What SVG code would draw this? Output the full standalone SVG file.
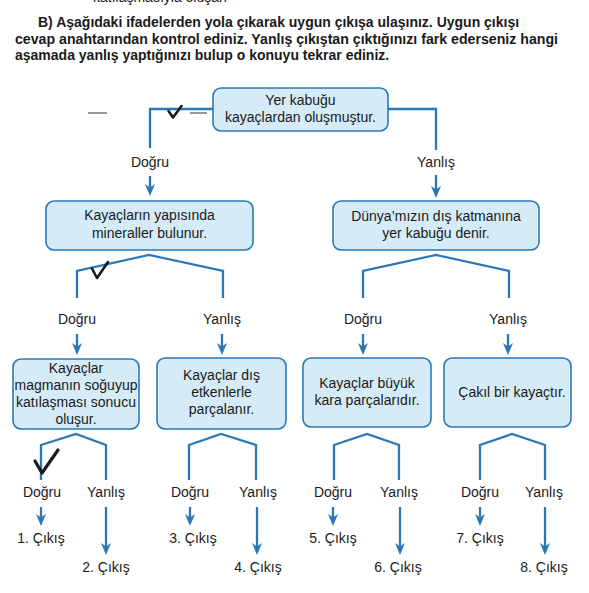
<svg xmlns="http://www.w3.org/2000/svg" width="589" height="593" viewBox="0 0 589 593">
<defs>
<style>
.hdr{font-family:"Liberation Sans",Arial,sans-serif;font-size:14px;font-weight:bold;fill:#1a1a1a}
.top{font-family:"Liberation Sans",Arial,sans-serif;font-size:14px;fill:#1a1a1a}
.t{font-family:"Liberation Sans",Arial,sans-serif;font-size:14px;fill:#1a1a1a;text-anchor:middle}
.box{fill:#d5ecf8;stroke:#2a78b8;stroke-width:1.6}
.ln{fill:none;stroke:#2a78b8;stroke-width:2.3}
.ar{fill:none;stroke:#2a78b8;stroke-width:2.3;marker-end:url(#ah)}
.chk{fill:none;stroke:#1a1a1a;stroke-width:2.6;stroke-linecap:round;stroke-linejoin:round}
.dash{fill:none;stroke:#333;stroke-width:1.2}
</style>
<marker id="ah" viewBox="0 0 12 10" refX="7" refY="5" markerWidth="12" markerHeight="10" markerUnits="userSpaceOnUse" orient="auto">
<path d="M0,0 L12,5 L0,10 L3.5,5 z" fill="#2a78b8"/>
</marker>
</defs>
<rect width="589" height="593" fill="#ffffff"/>
<g id="header">
<text class="top" x="93" y="2">katılaşmasıyla oluşan</text>
<text class="hdr" x="38" y="27">B) Aşağıdaki ifadelerden yola çıkarak uygun çıkışa ulaşınız. Uygun çıkışı</text>
<text class="hdr" x="15" y="44" textLength="543" lengthAdjust="spacingAndGlyphs">cevap anahtarından kontrol ediniz. Yanlış çıkıştan çıktığınızı fark ederseniz hangi</text>
<text class="hdr" x="15" y="60">aşamada yanlış yaptığınızı bulup o konuyu tekrar ediniz.</text>
</g>
<g id="connectors">
<path class="ln" d="M213,109 H150 V148"/>
<path class="ar" d="M150,176 V191"/>
<path class="ln" d="M388,109 H436 V150"/>
<path class="ar" d="M436,175 V193"/>
<path class="ln" d="M77,298 V271 L149,255 L223,271 V298"/>
<path class="ln" d="M363,298 V271 L436,255 L509,271 V298"/>
<path class="ar" d="M77,334 V350"/>
<path class="ar" d="M222,334 V350"/>
<path class="ar" d="M363,334 V350"/>
<path class="ar" d="M508,334 V350"/>
<path class="ln" d="M41,480 V445 L76,434 L106,445 V480"/>
<path class="ln" d="M189,480 V445 L221,434 L256,445 V480"/>
<path class="ln" d="M334,480 V445 L367,434 L399,445 V480"/>
<path class="ln" d="M480,480 V445 L512,434 L545,445 V480"/>
<path class="ar" d="M41,507 V521"/>
<path class="ar" d="M190,507 V521"/>
<path class="ar" d="M333,507 V521"/>
<path class="ar" d="M480,507 V521"/>
<path class="ar" d="M106,507 V550"/>
<path class="ar" d="M257,507 V550"/>
<path class="ar" d="M400,507 V550"/>
<path class="ar" d="M545,507 V550"/>
</g>
<g id="n-root">
<rect class="box" x="213" y="88" width="175" height="43" rx="8"/>
<text class="t" x="300.5" y="105">Yer kabuğu</text>
<text class="t" x="300.5" y="122">kayaçlardan oluşmuştur.</text>
</g>
<g id="n-minerals">
<rect class="box" x="46" y="201" width="207" height="49" rx="8"/>
<text class="t" x="149.5" y="220">Kayaçların yapısında</text>
<text class="t" x="149.5" y="238">mineraller bulunur.</text>
</g>
<g id="n-crust">
<rect class="box" x="333" y="201" width="206" height="49" rx="8"/>
<text class="t" x="436" y="221">Dünya’mızın dış katmanına</text>
<text class="t" x="436" y="238">yer kabuğu denir.</text>
</g>
<g id="n-magma">
<rect class="box" x="13" y="359" width="126" height="70" rx="8"/>
<text class="t" x="76" y="373">Kayaçlar</text>
<text class="t" x="76" y="390">magmanın soğuyup</text>
<text class="t" x="76" y="407">katılaşması sonucu</text>
<text class="t" x="76" y="424">oluşur.</text>
</g>
<g id="n-external">
<rect class="box" x="157" y="358" width="129" height="71" rx="8"/>
<text class="t" x="221.5" y="380">Kayaçlar dış</text>
<text class="t" x="221.5" y="397">etkenlerle</text>
<text class="t" x="221.5" y="414">parçalanır.</text>
</g>
<g id="n-continents">
<rect class="box" x="303" y="358" width="128" height="69" rx="8"/>
<text class="t" x="367" y="388">Kayaçlar büyük</text>
<text class="t" x="367" y="405">kara parçalarıdır.</text>
</g>
<g id="n-gravel">
<rect class="box" x="444" y="358" width="127" height="69" rx="8"/>
<text class="t" x="512" y="397">Çakıl bir kayaçtır.</text>
</g>
<g id="labels">
<text class="t" x="150" y="167">Doğru</text>
<text class="t" x="436" y="167">Yanlış</text>
<text class="t" x="77" y="324">Doğru</text>
<text class="t" x="222" y="324">Yanlış</text>
<text class="t" x="363" y="324">Doğru</text>
<text class="t" x="508" y="324">Yanlış</text>
<text class="t" x="42" y="497">Doğru</text>
<text class="t" x="106" y="497">Yanlış</text>
<text class="t" x="190" y="497">Doğru</text>
<text class="t" x="258" y="497">Yanlış</text>
<text class="t" x="333" y="497">Doğru</text>
<text class="t" x="399" y="497">Yanlış</text>
<text class="t" x="480" y="497">Doğru</text>
<text class="t" x="544" y="497">Yanlış</text>
</g>
<g id="exits">
<text class="t" x="41" y="543">1. Çıkış</text>
<text class="t" x="106" y="572">2. Çıkış</text>
<text class="t" x="193" y="543">3. Çıkış</text>
<text class="t" x="258" y="572">4. Çıkış</text>
<text class="t" x="333" y="543">5. Çıkış</text>
<text class="t" x="398" y="572">6. Çıkış</text>
<text class="t" x="480" y="543">7. Çıkış</text>
<text class="t" x="544" y="572">8. Çıkış</text>
</g>
<g id="marks">
<path class="chk" d="M168.5,111 L173,117.5 L181.5,106"/>
<path class="dash" d="M88,113 H107 M190,113 H207"/>
<path class="chk" d="M92,268.5 L97,278 L108,262"/>
<path class="chk" style="stroke-width:3.2" d="M35,461 L42,473 L58,450"/>
</g>
</svg>
